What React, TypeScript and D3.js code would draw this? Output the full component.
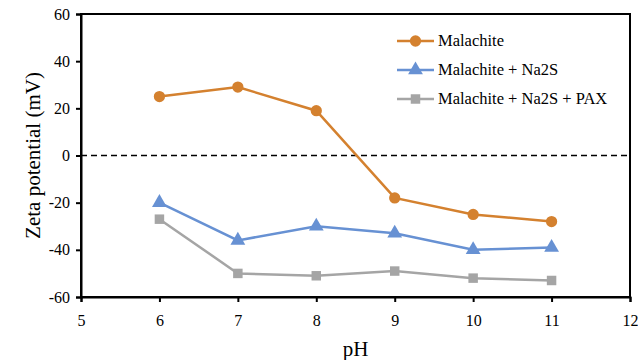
import React, { useEffect, useRef } from 'react';
import * as d3 from 'd3';

const phValues = [6, 7, 8, 9, 10, 11];
const malachite = [25, 29, 19, -18, -25, -28];
const malachiteNa2S = [-20, -36, -30, -33, -40, -39];
const malachiteNa2SPAX = [-27, -50, -51, -49, -52, -53];
const seriesNames = ['Malachite', 'Malachite + Na2S', 'Malachite + Na2S + PAX'];
const xTicks = [5, 6, 7, 8, 9, 10, 11, 12];
const yTicks = [-60, -40, -20, 0, 20, 40, 60];

const width = 638;
const height = 360;
const margin = { top: 14, right: 8, bottom: 63, left: 81 };
const font = 'Liberation Serif, Times New Roman, serif';

function App() {
  const svgRef = useRef<SVGSVGElement>(null);

  useEffect(() => {
    const svg = d3.select(svgRef.current);
    svg.selectAll('*').remove();

    const x = d3.scaleLinear().domain([5, 12]).range([margin.left, width - margin.right]);
    const y = d3.scaleLinear().domain([-60, 60]).range([height - margin.bottom, margin.top]);

    // zero line
    svg.append('line')
      .attr('x1', x(5)).attr('x2', x(12))
      .attr('y1', y(0)).attr('y2', y(0))
      .attr('stroke', '#000')
      .attr('stroke-width', 1.5)
      .attr('stroke-dasharray', '6,4');

    // frame
    svg.append('rect')
      .attr('x', x(5)).attr('y', y(60))
      .attr('width', x(12) - x(5)).attr('height', y(-60) - y(60))
      .attr('fill', 'none')
      .attr('stroke', '#000')
      .attr('stroke-width', 2);

    const fmt = (d: d3.NumberValue) => String(d);
    const yAxis = svg.append('g')
      .attr('transform', `translate(${x(5)},0)`)
      .call(d3.axisLeft(y).tickValues(yTicks).tickFormat(fmt).tickSize(5).tickPadding(6));
    const xAxis = svg.append('g')
      .attr('transform', `translate(0,${y(-60)})`)
      .call(d3.axisBottom(x).tickValues(xTicks).tickFormat(fmt).tickSize(5).tickPadding(13));
    [xAxis, yAxis].forEach(a => {
      a.attr('font-family', font);
      a.select('.domain').attr('stroke', '#000').attr('stroke-width', 2);
      a.selectAll('.tick line').attr('stroke', '#000').attr('stroke-width', 2);
      a.selectAll('text')
        .style('font-family', font)
        .attr('font-size', 16)
        .attr('fill', '#000');
    });

    svg.append('text')
      .attr('transform', `translate(40,${(y(60) + y(-60)) / 2}) rotate(-90)`)
      .attr('text-anchor', 'middle')
      .style('font-family', font)
      .attr('font-size', 21)
      .text('Zeta potential (mV)');
    svg.append('text')
      .attr('x', (x(5) + x(12)) / 2)
      .attr('y', 356)
      .attr('text-anchor', 'middle')
      .style('font-family', font)
      .attr('font-size', 21)
      .text('pH');

    const series = [
      { name: seriesNames[0], values: malachite, color: '#D4812F', shape: d3.symbolCircle },
      { name: seriesNames[1], values: malachiteNa2S, color: '#6791D3', shape: d3.symbolTriangle },
      { name: seriesNames[2], values: malachiteNa2SPAX, color: '#A5A5A5', shape: d3.symbolSquare }
    ];

    const line = d3.line<number>()
      .x((d, i) => x(phValues[i]))
      .y(d => y(d));

    series.forEach((s, k) => {
      const sym = d3.symbol().type(s.shape).size(s.shape === d3.symbolCircle ? 100 : s.shape === d3.symbolTriangle ? 95 : 90);
      svg.append('path')
        .attr('d', line(s.values))
        .attr('fill', 'none')
        .attr('stroke', s.color)
        .attr('stroke-width', 2.5);
      svg.selectAll(null)
        .data(s.values)
        .enter()
        .append('path')
        .attr('d', sym)
        .attr('transform', (d, i) => `translate(${x(phValues[i])},${y(d)})`)
        .attr('fill', s.color);

      // legend
      const ly = 41 + k * 29;
      svg.append('line')
        .attr('x1', 397).attr('x2', 434)
        .attr('y1', ly).attr('y2', ly)
        .attr('stroke', s.color)
        .attr('stroke-width', 2.5);
      svg.append('path')
        .attr('d', sym)
        .attr('transform', `translate(415.5,${ly})`)
        .attr('fill', s.color);
      svg.append('text')
        .attr('x', 438)
        .attr('y', ly + 5)
        .style('font-family', font)
        .attr('font-size', 16.5)
        .text(s.name);
    });
  });

  return (
    <svg
      ref={svgRef}
      width={width}
      height={height}
      style={{ position: 'absolute', left: 0, top: 0, background: '#fff' }}
    />
  );
}

export default App;
